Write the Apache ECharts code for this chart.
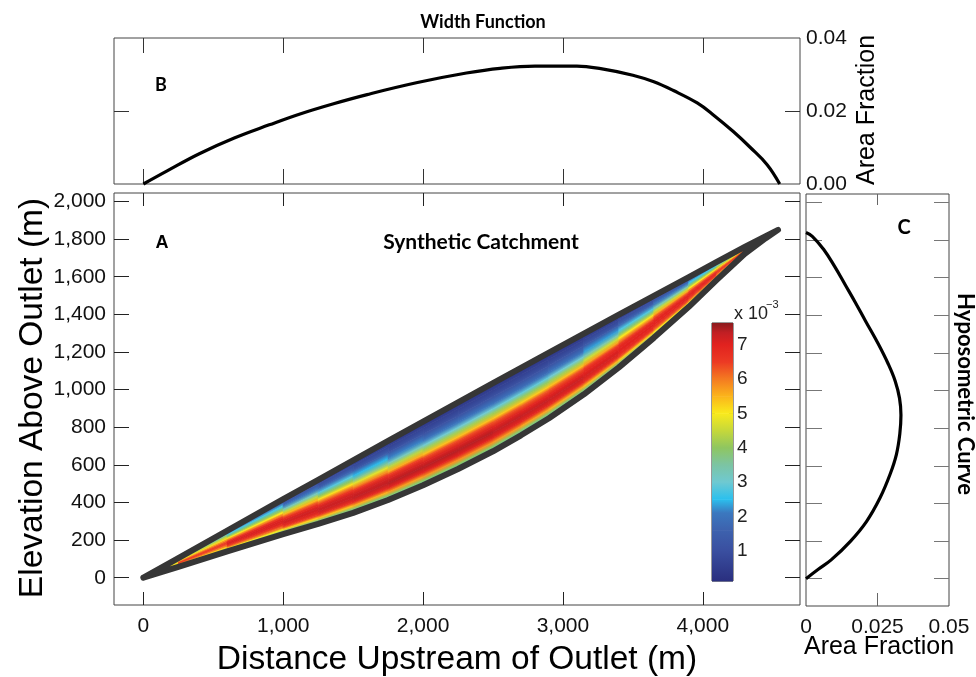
<!DOCTYPE html>
<html>
<head>
<meta charset="utf-8">
<script src="https://cdn.jsdelivr.net/npm/echarts@6/dist/echarts.min.js"></script>
<style>
html,body{margin:0;padding:0;background:#fff;}
#chart{width:976px;height:677px;}
</style>
</head>
<body>
<div id="chart"></div>
<script>
// ---------------- DATA ----------------
// Catchment outline (panel A): stations along the valley axis (m)
const xStations = [0, 250, 600, 1000, 1250, 1500, 1750, 2000, 2250, 2500, 2700, 2900, 3150, 3400, 3650, 3900, 4100, 4300, 4450, 4538];
const upperEdge = [0, 104, 250, 418, 520, 624, 727, 830, 932, 1034, 1115, 1196, 1297, 1398, 1498, 1598, 1679, 1759, 1816, 1849];
const lowerEdge = [0, 58, 140, 232, 286, 345, 413, 492, 578, 672, 757, 848, 975, 1118, 1275, 1440, 1583, 1722, 1805, 1849];
// fractional position across the catchment (0 = upper edge, 1 = lower edge)
const tFractions = [0, 0.1, 0.2, 0.3, 0.38, 0.45, 0.52, 0.58, 0.65, 0.72, 0.8, 0.87, 0.93, 1.0];
// density (x 10^-3) at each station (rows) and fraction (columns)
const density = [
  [3.0,3.2,3.5,3.8,4.0,4.2,4.3,4.3,4.2,4.0,3.8,3.5,3.2,3.0],
  [2.6,3.2,4.0,4.6,5.0,5.4,5.8,6.0,5.8,5.4,4.8,4.0,3.4,2.9],
  [1.4,2.2,3.2,4.4,5.4,6.2,6.8,7.1,7.0,6.6,5.8,4.6,3.6,2.8],
  [0.7,1.3,2.2,3.5,4.7,5.7,6.5,7.0,7.2,7.0,6.4,5.2,3.8,2.8],
  [0.5,1.0,1.8,3.0,4.2,5.3,6.2,6.8,7.2,7.2,6.6,5.3,3.8,2.7],
  [0.4,0.8,1.5,2.6,3.8,4.9,6.0,6.7,7.2,7.3,6.8,5.5,3.9,2.7],
  [0.35,0.7,1.3,2.3,3.4,4.6,5.7,6.6,7.2,7.4,6.9,5.6,3.9,2.7],
  [0.3,0.6,1.1,2.0,3.0,4.2,5.4,6.4,7.1,7.4,7.0,5.8,4.0,2.7],
  [0.3,0.6,1.1,2.0,3.0,4.2,5.4,6.4,7.1,7.4,7.0,5.8,4.0,2.7],
  [0.3,0.6,1.1,2.0,3.0,4.2,5.4,6.4,7.1,7.4,7.0,5.8,4.0,2.7],
  [0.3,0.6,1.1,1.9,2.9,4.1,5.3,6.3,7.0,7.3,6.9,5.7,3.9,2.7],
  [0.3,0.6,1.1,1.9,2.9,4.1,5.3,6.3,7.0,7.3,6.9,5.6,3.9,2.7],
  [0.3,0.6,1.2,2.1,3.1,4.3,5.5,6.4,7.0,7.2,6.8,5.5,3.9,2.7],
  [0.4,0.8,1.5,2.5,3.6,4.8,5.8,6.6,7.0,7.1,6.6,5.4,3.8,2.7],
  [0.5,1.0,1.8,3.0,4.2,5.3,6.2,6.8,7.0,6.9,6.4,5.2,3.8,2.8],
  [0.7,1.3,2.3,3.6,4.8,5.8,6.5,6.9,7.0,6.8,6.2,5.0,3.7,2.8],
  [1.2,2.0,3.0,4.2,5.2,6.0,6.6,6.9,6.8,6.4,5.8,4.8,3.7,2.9],
  [2.0,2.6,3.4,4.4,5.2,5.8,6.2,6.3,6.0,5.6,5.0,4.3,3.5,3.0],
  [2.6,3.0,3.4,3.9,4.4,4.8,5.0,5.0,4.8,4.5,4.1,3.7,3.3,3.0],
  [3.0,3.0,3.0,3.0,3.0,3.0,3.0,3.0,3.0,3.0,3.0,3.0,3.0,3.0]
];
// colour scale (x 10^-3)
const colorValues = [0.12, 1.0, 1.6, 2.1, 2.5, 3.0, 3.5, 4.0, 4.5, 5.0, 5.5, 6.0, 6.5, 7.0, 7.35, 7.63];
const colorHexes = ['#2a2f7f','#3a4fa0','#3d62ae','#3b78bf','#2bc0ee','#6fc9d1','#7cc4a3','#8fc660','#c6d83a','#f9ea1c','#fbb41b','#f47a21','#ec3a24','#e1221f','#c11f24','#8a1b1d'];
const colorbarTicks = [1, 2, 3, 4, 5, 6, 7];

// Panel B: width function
const wfDistance = [0, 170, 400, 650, 900, 1120, 1360, 1600, 1960, 2310, 2550, 2800, 3100, 3270, 3500, 3650, 3790, 3960, 4080, 4220, 4340, 4460, 4550];
const wfFraction = [0, 0.0036, 0.0083, 0.0126, 0.0162, 0.0192, 0.0220, 0.0245, 0.0278, 0.0304, 0.0317, 0.0323, 0.0323, 0.0316, 0.0298, 0.0280, 0.0256, 0.0222, 0.0188, 0.0143, 0.0100, 0.0053, 0];

// Panel C: hypsometric curve
const hcElevation = [1840, 1820, 1750, 1660, 1560, 1470, 1370, 1250, 1140, 1050, 960, 870, 770, 660, 555, 430, 305, 200, 100, 50, 0];
const hcFraction = [0, 0.0022, 0.0062, 0.0100, 0.0138, 0.0172, 0.0208, 0.0252, 0.0288, 0.0312, 0.0327, 0.0332, 0.0328, 0.0316, 0.0294, 0.0259, 0.0212, 0.0156, 0.0088, 0.0043, 0];

// Tick labels
const distTicks = [0, 1000, 2000, 3000, 4000];
const elevTicks = [0, 200, 400, 600, 800, 1000, 1200, 1400, 1600, 1800, 2000];
const wfTicks = [0, 0.02, 0.04];
const hcTicks = [0, 0.025, 0.05];

// ---------------- CHART ----------------
const chart = echarts.init(document.getElementById('chart'), null, {renderer: 'canvas'});

function colorOf(v) {
  if (v <= colorValues[0]) return colorHexes[0];
  for (let k = 0; k < colorValues.length - 1; k++) {
    if (v <= colorValues[k + 1]) {
      const f = (v - colorValues[k]) / (colorValues[k + 1] - colorValues[k]);
      return echarts.color.lerp(f, [colorHexes[k], colorHexes[k + 1]]);
    }
  }
  return colorHexes[colorHexes.length - 1];
}
const fmtComma = v => Number(v).toLocaleString('en-US');
const LBL = 'Liberation Sans, Arial, sans-serif';
const TTL = 'Lato, Calibri, sans-serif';

const quadData = [];
for (let i = 0; i < xStations.length - 1; i++)
  for (let j = 0; j < tFractions.length - 1; j++) quadData.push([i, j]);

function quadItem(params, api) {
  const i = api.value(0), j = api.value(1);
  const pt = (k, t) => api.coord([xStations[k], upperEdge[k] + t * (lowerEdge[k] - upperEdge[k])]);
  const A = pt(i, tFractions[j]), B = pt(i + 1, tFractions[j]);
  const C = pt(i + 1, tFractions[j + 1]), D = pt(i, tFractions[j + 1]);
  const v0 = (density[i][j] + density[i + 1][j]) / 2;
  const v1 = (density[i][j + 1] + density[i + 1][j + 1]) / 2;
  const m0 = [(A[0] + B[0]) / 2, (A[1] + B[1]) / 2];
  const m1 = [(C[0] + D[0]) / 2, (C[1] + D[1]) / 2];
  let dx = (B[0] - A[0]) + (C[0] - D[0]), dy = (B[1] - A[1]) + (C[1] - D[1]);
  const dl = Math.hypot(dx, dy) || 1; dx /= dl; dy /= dl;
  let gx = m1[0] - m0[0], gy = m1[1] - m0[1];
  const dot = gx * dx + gy * dy;
  gx -= dot * dx; gy -= dot * dy;
  if (Math.hypot(gx, gy) < 0.05) { gx = 0.05; gy = 0.05; }
  const grad = new echarts.graphic.LinearGradient(m0[0], m0[1], m0[0] + gx, m0[1] + gy,
    [{offset: 0, color: colorOf(v0)}, {offset: 1, color: colorOf(v1)}], true);
  return {type: 'polygon', shape: {points: [A, B, C, D]},
    style: {fill: grad, stroke: grad, lineWidth: 0.8}};
}

function barItem(params, api) {
  const k = api.value(2);
  const p0 = api.coord([0, colorValues[k]]);
  const p1 = api.coord([1, colorValues[k + 1]]);
  const grad = new echarts.graphic.LinearGradient(0, p0[1], 0, p1[1],
    [{offset: 0, color: colorHexes[k]}, {offset: 1, color: colorHexes[k + 1]}], true);
  return {type: 'rect', shape: {x: p0[0], y: p1[1], width: p1[0] - p0[0], height: p0[1] - p1[1] + 0.5},
    style: {fill: grad}};
}

const outline = [];
for (let k = 0; k < xStations.length; k++) outline.push([xStations[k], upperEdge[k]]);
for (let k = xStations.length - 1; k >= 0; k--) outline.push([xStations[k], lowerEdge[k]]);

const wfData = wfDistance.map((d, k) => [d, wfFraction[k]]);
const hcData = hcElevation.map((e, k) => [hcFraction[k], e]);

const noSplit = {show: false};
function tickAx(extra) { return Object.assign({type: 'value', axisLine: {show: false, onZero: false}, splitLine: noSplit}, extra); }

const X_MIN = -210, X_MAX = 4695, Y_MIN = -145, Y_MAX = 2045;

function txt(x, y, text, font, extra) {
  return Object.assign({type: 'text', x: x, y: y,
    style: {text: text, font: font, fill: '#000', align: 'center', verticalAlign: 'middle', textAlign: 'center', textVerticalAlign: 'middle'}}, extra || {});
}

chart.setOption({
  animation: false,
  backgroundColor: '#fff',
  grid: [
    {left: 114, top: 193, width: 686, height: 412, show: true, borderColor: '#444', borderWidth: 1, backgroundColor: 'transparent'},
    {left: 114, top: 38, width: 686, height: 146, show: true, borderColor: '#444', borderWidth: 1, backgroundColor: 'transparent'},
    {left: 806, top: 194, width: 143, height: 412, show: true, borderColor: '#444', borderWidth: 1, backgroundColor: 'transparent'},
    {left: 712, top: 323, width: 21, height: 258, show: true, borderColor: '#333', borderWidth: 1, backgroundColor: 'transparent'}
  ],
  xAxis: [
    tickAx({gridIndex: 0, position: 'bottom', min: X_MIN, max: X_MAX,
      axisTick: {show: true, inside: true, length: 13, customValues: distTicks, lineStyle: {color: '#222'}},
      axisLabel: {show: true, customValues: distTicks, formatter: fmtComma, margin: 11, fontSize: 21, fontFamily: LBL, color: '#111'}}),
    tickAx({gridIndex: 0, position: 'top', min: X_MIN, max: X_MAX,
      axisTick: {show: true, inside: true, length: 13, customValues: distTicks, lineStyle: {color: '#222'}},
      axisLabel: {show: false}}),
    tickAx({gridIndex: 1, position: 'bottom', min: X_MIN, max: X_MAX,
      axisTick: {show: true, inside: true, length: 15, customValues: distTicks, lineStyle: {color: '#333'}},
      axisLabel: {show: false}}),
    tickAx({gridIndex: 1, position: 'top', min: X_MIN, max: X_MAX,
      axisTick: {show: true, inside: true, length: 15, customValues: distTicks, lineStyle: {color: '#333'}},
      axisLabel: {show: false}}),
    tickAx({gridIndex: 2, position: 'bottom', min: 0, max: 0.05,
      axisTick: {show: true, inside: true, length: 13, customValues: [0.025], lineStyle: {color: '#666'}},
      axisLabel: {show: true, customValues: hcTicks, formatter: v => (v === 0 ? '0' : String(v)), margin: 11, fontSize: 21, fontFamily: LBL, color: '#111'}}),
    tickAx({gridIndex: 2, position: 'top', min: 0, max: 0.05,
      axisTick: {show: true, inside: true, length: 11, customValues: [0.025], lineStyle: {color: '#666'}},
      axisLabel: {show: false}}),
    tickAx({gridIndex: 3, min: 0, max: 1, show: false})
  ],
  yAxis: [
    tickAx({gridIndex: 0, position: 'left', min: Y_MIN, max: Y_MAX,
      axisTick: {show: true, inside: true, length: 15, customValues: elevTicks, lineStyle: {color: '#222'}},
      axisLabel: {show: true, customValues: elevTicks, formatter: fmtComma, margin: 8, fontSize: 21, fontFamily: LBL, color: '#111'}}),
    tickAx({gridIndex: 0, position: 'right', min: Y_MIN, max: Y_MAX,
      axisTick: {show: true, inside: true, length: 15, customValues: elevTicks, lineStyle: {color: '#222'}},
      axisLabel: {show: false}}),
    tickAx({gridIndex: 1, position: 'left', min: 0, max: 0.04,
      axisTick: {show: true, inside: true, length: 15, customValues: [0.02], lineStyle: {color: '#333'}},
      axisLabel: {show: false}}),
    tickAx({gridIndex: 1, position: 'right', min: 0, max: 0.04,
      axisTick: {show: true, inside: true, length: 15, customValues: [0.02], lineStyle: {color: '#333'}},
      axisLabel: {show: true, customValues: wfTicks, formatter: v => Number(v).toFixed(2), margin: 6, fontSize: 21, fontFamily: LBL, color: '#111'}}),
    tickAx({gridIndex: 2, position: 'left', min: Y_MIN, max: Y_MAX,
      axisTick: {show: true, inside: true, length: 16, customValues: elevTicks, lineStyle: {color: '#777'}},
      axisLabel: {show: false}}),
    tickAx({gridIndex: 2, position: 'right', min: Y_MIN, max: Y_MAX,
      axisTick: {show: true, inside: true, length: 15, customValues: elevTicks, lineStyle: {color: '#777'}},
      axisLabel: {show: false}}),
    tickAx({gridIndex: 3, position: 'right', min: 0.117, max: 7.63,
      axisTick: {show: true, inside: true, length: 4, customValues: colorbarTicks, lineStyle: {color: '#333'}},
      axisLabel: {show: true, customValues: colorbarTicks, margin: 4, fontSize: 19, fontFamily: LBL, color: '#222'}}),
    tickAx({gridIndex: 3, position: 'left', min: 0.117, max: 7.63,
      axisTick: {show: true, inside: true, length: 3, customValues: colorbarTicks, lineStyle: {color: '#333'}},
      axisLabel: {show: false}})
  ],
  series: [
    {type: 'custom', name: 'density', xAxisIndex: 0, yAxisIndex: 0, data: quadData, renderItem: quadItem, z: 2, silent: true},
    {type: 'line', name: 'outline', xAxisIndex: 0, yAxisIndex: 0, data: outline, symbol: 'none', z: 3,
      lineStyle: {color: '#363636', width: 6, join: 'round', cap: 'round'}, silent: true},
    {type: 'line', name: 'Width Function', xAxisIndex: 2, yAxisIndex: 2, data: wfData, symbol: 'none', smooth: 0.4,
      lineStyle: {color: '#000', width: 3.2}, clip: false},
    {type: 'line', name: 'Hyposometric Curve', xAxisIndex: 4, yAxisIndex: 4, data: hcData, symbol: 'none', smooth: 0.4,
      lineStyle: {color: '#000', width: 3.2}, clip: false},
    {type: 'custom', name: 'colorbar', xAxisIndex: 6, yAxisIndex: 6,
      data: colorValues.slice(0, -1).map((v, k) => [0.5, v, k]), renderItem: barItem, z: 2, silent: true}
  ],
  graphic: [
    txt(483, 22, 'Width Function', 'bold 18px ' + TTL),
    txt(161, 85, 'B', 'bold 18px ' + TTL),
    txt(162, 243, 'A', 'bold 18px ' + LBL),
    txt(904, 228, 'C', 'bold 20px ' + TTL),
    txt(481, 242, 'Synthetic Catchment', 'bold 21px ' + TTL),
    txt(965, 394, 'Hyposometric Curve', 'bold 22px ' + TTL, {rotation: -Math.PI / 2}),
    txt(33, 398, 'Elevation Above Outlet (m)', '33.5px ' + LBL, {rotation: Math.PI / 2}),
    txt(457, 660, 'Distance Upstream of Outlet (m)', '33.5px ' + LBL),
    txt(879, 647, 'Area Fraction', '25px ' + LBL),
    txt(867, 110, 'Area Fraction', '25px ' + LBL, {rotation: Math.PI / 2}),
    {type: 'text', x: 734, y: 314, style: {text: 'x 10', font: '18px ' + LBL, fill: '#222', align: 'left', verticalAlign: 'middle', textAlign: 'left', textVerticalAlign: 'middle'}},
    {type: 'text', x: 766, y: 305, style: {text: '\u22123', font: '11px ' + LBL, fill: '#222', align: 'left', verticalAlign: 'middle', textAlign: 'left', textVerticalAlign: 'middle'}}
  ]
});
</script>
</body>
</html>
